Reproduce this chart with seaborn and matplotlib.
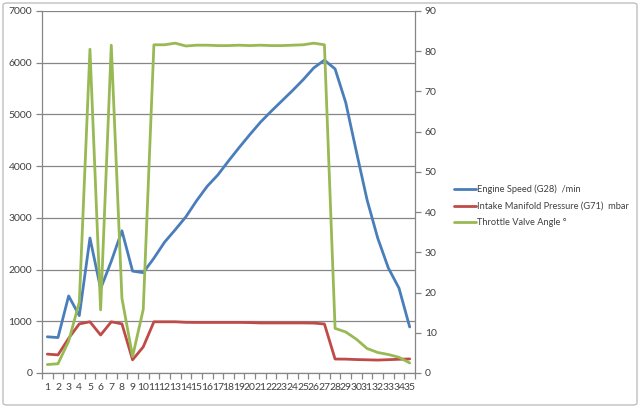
import matplotlib
matplotlib.use("Agg")
import matplotlib.pyplot as plt
import seaborn as sns
import pandas as pd
from matplotlib.patches import FancyBboxPatch
from matplotlib.ticker import MultipleLocator, FixedLocator

# Measured values per sample
samples = list(range(1, 36))
engine_speed = [700, 685, 1490, 1110, 2610, 1630, 2160, 2750, 1970, 1940,
                2220, 2530, 2770, 3020, 3330, 3610, 3830, 4100, 4360, 4610,
                4850, 5060, 5260, 5460, 5670, 5900, 6050, 5880, 5230, 4280,
                3350, 2610, 2030, 1640, 890]
manifold_pressure = [365, 350, 670, 950, 990, 735, 990, 950, 255, 505,
                     990, 990, 990, 980, 978, 978, 978, 978, 978, 975,
                     968, 968, 968, 968, 968, 965, 948, 270, 268, 260,
                     255, 250, 258, 265, 272]
throttle_angle = [2.1, 2.3, 7.9, 17.6, 80.5, 15.7, 81.5, 18.6, 4.1, 15.8,
                  81.6, 81.6, 82.0, 81.3, 81.5, 81.5, 81.4, 81.4, 81.5, 81.4,
                  81.5, 81.4, 81.4, 81.5, 81.6, 82.0, 81.6, 11.1, 10.2, 8.4,
                  6.1, 5.1, 4.6, 3.9, 2.5]

labels = ["Engine Speed (G28)  /min",
          "Intake Manifold Pressure (G71)  mbar",
          "Throttle Valve Angle \u00b0"]
colors = ["#4A7EBB", "#BE4B48", "#98B954"]

df = pd.DataFrame({"sample": samples, "rpm": engine_speed,
                   "map": manifold_pressure, "tva": throttle_angle})

sns.set_style("white")
plt.rcParams['font.family'] = ['Lato', 'DejaVu Sans']
text_col = "#404040"
axis_col = "#868686"

fig = plt.figure(figsize=(6.4, 4.08), dpi=100)
ax = fig.add_axes([42 / 640, 35 / 408, 373 / 640, 362 / 408])
ax2 = ax.twinx()

sns.lineplot(data=df, x="sample", y="rpm", ax=ax, color=colors[0], lw=2, legend=False)
sns.lineplot(data=df, x="sample", y="map", ax=ax, color=colors[1], lw=2, legend=False)
sns.lineplot(data=df, x="sample", y="tva", ax=ax2, color=colors[2], lw=2, legend=False)

ax.set_xlim(0.5, 35.5)
ax.set_ylim(0, 7000)
ax2.set_ylim(0, 90)
ax.yaxis.set_major_locator(MultipleLocator(1000))
ax2.yaxis.set_major_locator(MultipleLocator(10))
ax.set_xticks(samples)
ax.set_xticklabels([str(s) for s in samples])
ax.xaxis.set_minor_locator(FixedLocator([s + 0.5 for s in range(0, 36)]))
ax.set_xlabel("")
ax.set_ylabel("")
ax2.set_ylabel("")

ax.grid(axis="y", color=axis_col, lw=0.9)
ax.set_axisbelow(True)

for a in (ax, ax2):
    a.spines["top"].set_visible(False)
    for s in ("left", "right", "bottom"):
        a.spines[s].set_color(axis_col)
        a.spines[s].set_linewidth(0.9)
ax.spines["right"].set_visible(False)
ax2.spines["left"].set_visible(False)
ax2.spines["bottom"].set_visible(False)

ax.tick_params(axis="y", which="major", direction="out", length=4, width=0.9,
               color=axis_col, labelsize=7.5, labelcolor=text_col, pad=3, left=True)
ax2.tick_params(axis="y", which="major", direction="out", length=4, width=0.9,
                color=axis_col, labelsize=7.5, labelcolor=text_col, pad=3, right=True)
ax.tick_params(axis="x", which="major", length=0, labelsize=7.5, labelcolor=text_col, pad=7)
ax.tick_params(axis="x", which="minor", direction="out", length=4, width=0.9,
               color=axis_col, bottom=True)

handles = ax.get_lines()[:2] + ax2.get_lines()[:1]
fig.legend(handles, labels, loc="center left", bbox_to_anchor=(449 / 640, 202 / 408),
           frameon=False, fontsize=6.7, handlelength=2.4, handletextpad=0.15,
           labelspacing=0.8, borderpad=0, labelcolor=text_col)

# outer chart border
fig.patches.append(FancyBboxPatch((3 / 640, 3 / 408), 634 / 640, 402 / 408,
                                  boxstyle="round,pad=0,rounding_size=0.006",
                                  transform=fig.transFigure, fill=False,
                                  edgecolor="#BFBFBF", lw=1))

fig.savefig("out.png", dpi=100)
